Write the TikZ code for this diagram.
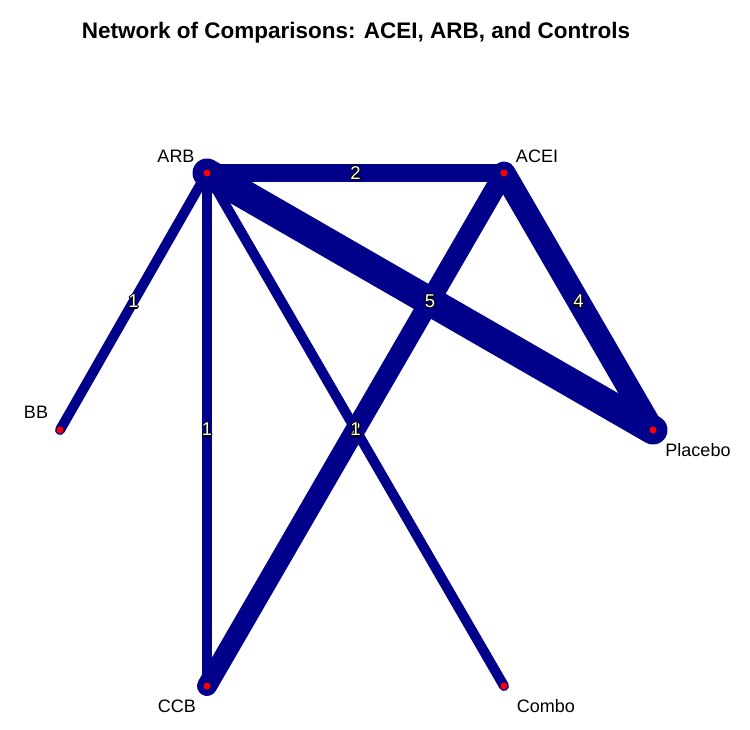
\documentclass[tikz,border=0pt]{standalone}
\usepackage{fontspec}
\setmainfont{Liberation Sans}
\usetikzlibrary{calc}
\definecolor{edgeblue}{HTML}{00008B}
\newcommand{\oc}[3]{\rlap{\kern#1pt\raisebox{#2pt}{\color{black}#3}}}
\newcommand{\olt}[1]{\leavevmode
  \oc{1.2}{0}{#1}\oc{-1.2}{0}{#1}\oc{0}{1.2}{#1}\oc{0}{-1.2}{#1}%
  \oc{0.85}{0.85}{#1}\oc{-0.85}{0.85}{#1}\oc{0.85}{-0.85}{#1}\oc{-0.85}{-0.85}{#1}%
  {\color{white}#1}}
\begin{document}
\begin{tikzpicture}[x=1pt,y=-1pt,
  edge/.style={draw=edgeblue,line cap=round},
  vert/.style={circle,fill=red,inner sep=0pt,minimum size=7pt},
  vlab/.style={font=\fontsize{18}{20}\selectfont,text=black,inner sep=0pt},
  elab/.style={font=\fontsize{18.5}{20}\selectfont,inner sep=0pt}]
\useasboundingbox[fill=white] (0,0) rectangle (750,730);
\node[font=\bfseries\fontsize{22.5}{26}\selectfont] (title) at (356,33) {Network of Comparisons: ACEI, ARB, and Controls};
% vertices (positions)
\node[vert] (ARB) at (207,173) {};
\node[vert] (ACEI) at (504,173) {};
\node[vert] (BB) at (60,430) {};
\node[vert] (Placebo) at (653,430) {};
\node[vert] (CCB) at (207,686) {};
\node[vert] (Combo) at (504,686) {};
% edges
\draw[edge,line width=10pt] (ARB.center) -- (BB.center);
\draw[edge,line width=10pt] (ARB.center) -- (CCB.center);
\draw[edge,line width=10pt] (ARB.center) -- (Combo.center);
\draw[edge,line width=18pt] (ARB.center) -- (ACEI.center);
\draw[edge,line width=20pt] (ACEI.center) -- (CCB.center);
\draw[edge,line width=23pt] (ACEI.center) -- (Placebo.center);
\draw[edge,line width=29pt] (ARB.center) -- (Placebo.center);
% vertices on top
\foreach \v in {ARB,ACEI,BB,Placebo,CCB,Combo}{\node[vert] at (\v) {};}
% vertex labels
\node[vlab] (lARB) at (176,156) {ARB};
\node[vlab] (lACEI) at (537,156) {ACEI};
\node[vlab] (lBB) at (36,412) {BB};
\node[vlab] (lPlacebo) at (698,450) {Placebo};
\node[vlab] (lCCB) at (177,706) {CCB};
\node[vlab] (lCombo) at (546,706) {Combo};
% edge labels at midpoints
\node[elab] (e1) at ($(ARB)!0.5!(ACEI)$) {\olt{2}};
\node[elab] (e2) at ($(ARB)!0.5!(Placebo)$) {\olt{5}};
\node[elab] (e3) at ($(ACEI)!0.5!(Placebo)$) {\olt{4}};
\node[elab] (e4) at ($(ARB)!0.5!(BB)$) {\olt{1}};
\node[elab] (e5) at ($(ARB)!0.5!(CCB)$) {\olt{1}};
\node[elab] (e7) at ($(ACEI)!0.5!(CCB)$) {\olt{2}};
\node[elab] (e6) at ($(ARB)!0.5!(Combo)$) {\olt{1}};
\end{tikzpicture}
\end{document}
